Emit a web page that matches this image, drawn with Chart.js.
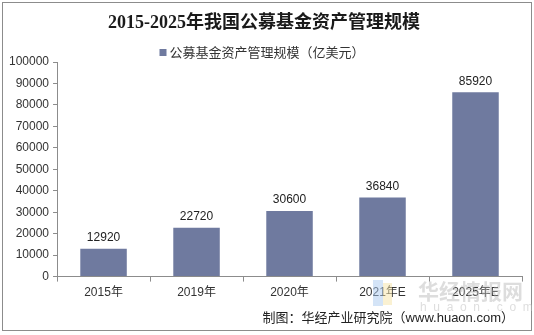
<!DOCTYPE html>
<html>
<head>
<meta charset="utf-8">
<script src="https://cdn.jsdelivr.net/npm/chart.js@4/dist/chart.umd.min.js"></script>
<style>
  html, body { margin: 0; padding: 0; background: #ffffff; }
  #wrap { width: 534px; height: 335px; position: relative; }
  canvas { display: block; }
</style>
</head>
<body>
<div id="wrap"><canvas id="c" width="534" height="335"></canvas></div>
<script>
// ---- data ----
const titleText = '2015-2025年我国公募基金资产管理规模';
const seriesName = '公募基金资产管理规模（亿美元）';
const sourceText = '制图：华经产业研究院（www.huaon.com）';
const categories = ['2015年', '2019年', '2020年', '2021年E', '2025年E'];
const values = [12920, 22720, 30600, 36840, 85920];
const yMin = 0;
const yMax = 100000;
const yStep = 10000;

const SANS = "'Liberation Sans', Arial, 'Noto Sans CJK SC', sans-serif";
const SERIF = "'Liberation Serif', 'Noto Sans CJK SC', serif";
const barColor = '#6f7a9f';

const decorPlugin = {
  id: 'decor',
  beforeDraw(chart) {
    const ctx = chart.ctx;
    ctx.save();
    ctx.fillStyle = '#ffffff';
    ctx.fillRect(0, 0, chart.width, chart.height);
    ctx.restore();
  },
  afterDraw(chart) {
    const ctx = chart.ctx;
    ctx.save();
    // outer border
    ctx.strokeStyle = '#8c8c8c';
    ctx.lineWidth = 1;
    ctx.strokeRect(2.5, 2.5, 529, 328);

    // title
    ctx.fillStyle = '#1a1a1a';
    ctx.font = 'bold 18px ' + SERIF;
    ctx.textAlign = 'center';
    ctx.textBaseline = 'middle';
    ctx.fillText(titleText, 264, 23);

    // legend
    ctx.font = '13px ' + SANS;
    ctx.textAlign = 'left';
    const lw = ctx.measureText(seriesName).width;
    const lx = 262 - (lw + 10) / 2;
    ctx.fillStyle = barColor;
    ctx.fillRect(lx, 49, 7, 7);
    ctx.fillStyle = '#333333';
    ctx.fillText(seriesName, lx + 10, 53);

    // value labels
    const meta = chart.getDatasetMeta(0);
    ctx.font = '12px ' + SANS;
    ctx.fillStyle = '#222222';
    ctx.textAlign = 'center';
    ctx.textBaseline = 'bottom';
    meta.data.forEach((bar, i) => {
      ctx.fillText(String(values[i]), bar.x, bar.y - 5);
    });

    // watermark
    ctx.globalAlpha = 0.5;
    ctx.fillStyle = '#a9c9ef';
    ctx.fillRect(373, 280, 10, 26);
    ctx.fillStyle = '#f5e3a6';
    ctx.fillRect(383, 283, 9, 22);
    ctx.globalAlpha = 1;
    ctx.fillStyle = 'rgba(180,180,180,0.45)';
    ctx.font = 'bold 21px ' + "'Noto Sans CJK SC', sans-serif";
    ctx.textAlign = 'left';
    ctx.textBaseline = 'middle';
    ctx.fillText('华经情报网', 418, 291);
    ctx.font = '12px ' + SANS;
    ctx.fillStyle = 'rgba(190,190,190,0.5)';
    ctx.fillText('h  u  a  o  n  .  c  o  m', 420, 308);

    // source
    ctx.fillStyle = '#222222';
    ctx.font = '13px ' + SANS;
    ctx.textAlign = 'right';
    ctx.textBaseline = 'middle';
    ctx.fillText(sourceText, 514, 318);
    ctx.restore();
  }
};

new Chart(document.getElementById('c'), {
  type: 'bar',
  data: {
    labels: categories,
    datasets: [{
      label: seriesName,
      data: values,
      backgroundColor: barColor,
      borderWidth: 0,
      barPercentage: 0.5,
      categoryPercentage: 1.0
    }]
  },
  options: {
    responsive: false,
    animation: false,
    devicePixelRatio: 1,
    layout: { padding: { top: 62, right: 12, bottom: 31, left: 5 } },
    plugins: {
      legend: { display: false },
      title: { display: false },
      tooltip: { enabled: false }
    },
    scales: {
      x: {
        offset: true,
        grid: { offset: true, drawOnChartArea: false, drawTicks: true, tickLength: 5, color: '#8c8c8c' },
        border: { display: true, color: '#8c8c8c' },
        ticks: { color: '#333333', font: { size: 12, family: SANS }, padding: 4, maxRotation: 0 }
      },
      y: {
        min: yMin,
        max: yMax,
        ticks: { stepSize: yStep, color: '#333333', font: { size: 12, family: SANS }, padding: 4,
                 callback: (v) => String(v) },
        grid: { drawOnChartArea: false, drawTicks: true, tickLength: 4, color: '#8c8c8c' },
        border: { display: true, color: '#8c8c8c' }
      }
    }
  },
  plugins: [decorPlugin]
});
</script>
</body>
</html>
